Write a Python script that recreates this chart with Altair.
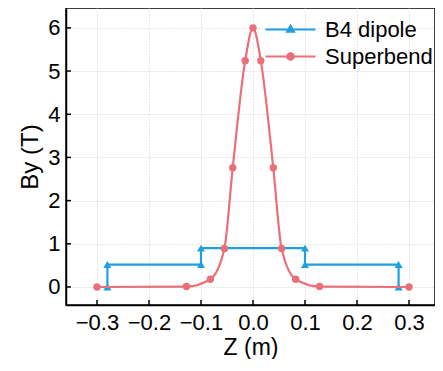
import altair as alt
import pandas as pd

# ---- data ----
series_names = ["B4 dipole", "Superbend"]
series_colors = ["#1f9fe0", "#ea6f78"]

b4_z = [-0.28, -0.28, -0.10, -0.10, 0.10, 0.10, 0.28, 0.28]
b4_by = [0.0, 0.52, 0.52, 0.90, 0.90, 0.52, 0.52, 0.0]

sb_z = [-0.30, -0.128, -0.082, -0.055, -0.039, -0.015, 0.0, 0.015, 0.039, 0.055, 0.082, 0.128, 0.30]
sb_by = [0.0, 0.01, 0.18, 0.89, 2.76, 5.24, 6.0, 5.24, 2.76, 0.89, 0.18, 0.01, 0.0]

x_ticks = [-0.3, -0.2, -0.1, 0.0, 0.1, 0.2, 0.3]
y_ticks = [0, 1, 2, 3, 4, 5, 6]

# legend glyphs: a line with the series marker in the middle
legend_paths = [
    "M-2.5,0H2.5M0,-0.36L0.33,0.22L-0.33,0.22Z",
    "M-2.5,0H2.5M0.32,0A0.32,0.32,0,1,1,-0.32,0A0.32,0.32,0,1,1,0.32,0Z",
]

BLUE, RED = series_colors
FONT = "Liberation Sans"
W, H = 369, 297

df_b4 = pd.DataFrame({"z": b4_z, "by": b4_by, "i": list(range(len(b4_z)))})
df_sb = pd.DataFrame({"z": sb_z, "by": sb_by, "i": list(range(len(sb_z)))})
df_leg = pd.DataFrame({"series": series_names})
df_xt = pd.DataFrame({"z": x_ticks})
df_yt = pd.DataFrame({"by": y_ticks})

xs = alt.Scale(domain=[-0.3596, 0.35], nice=False, zero=False)
ys = alt.Scale(domain=[-0.417, 6.46], nice=False, zero=False)

x_axis = alt.Axis(values=x_ticks, format=".1f", title="Z (m)", ticks=False,
                  grid=True, gridDash=[1, 2], gridColor="#cccccc", gridWidth=1,
                  domainColor="black", domainWidth=1.5,
                  labelFont=FONT, labelFontSize=22, labelColor="black", labelPadding=7,
                  titleFont=FONT, titleFontSize=23, titleColor="black",
                  titleFontWeight="normal", titlePadding=3, labelFlush=False)
y_axis = alt.Axis(values=y_ticks, format="d", title="By (T)", ticks=False,
                  grid=True, gridDash=[1, 2], gridColor="#cccccc", gridWidth=1,
                  domainColor="black", domainWidth=1.5,
                  labelFont=FONT, labelFontSize=22, labelColor="black", labelPadding=6,
                  titleFont=FONT, titleFontSize=24, titleColor="black",
                  titleFontWeight="normal", titlePadding=5, labelFlush=False)

X = alt.X("z:Q", scale=xs, axis=x_axis)
Y = alt.Y("by:Q", scale=ys, axis=y_axis)

b4_line = alt.Chart(df_b4).mark_line(color=BLUE, strokeWidth=2.2).encode(x=X, y=Y, order="i:Q")
b4_pts = alt.Chart(df_b4).mark_point(shape="triangle-up", filled=True, size=65,
                                     color=BLUE, opacity=1).encode(x=X, y=Y)
sb_line = alt.Chart(df_sb).mark_line(color=RED, strokeWidth=2.2, interpolate="monotone").encode(
    x=X, y=Y, order="i:Q")
sb_pts = alt.Chart(df_sb).mark_circle(size=55, color=RED, opacity=1).encode(x=X, y=Y)

# inward tick marks
xt = alt.Chart(df_xt).mark_rule(color="black", strokeWidth=1.5).encode(
    x=X, y=alt.value(H), y2=alt.value(H - 5))
yt = alt.Chart(df_yt).mark_rule(color="black", strokeWidth=1.5).encode(
    y=Y, x=alt.value(0), x2=alt.value(5))

leg = alt.Legend(title=None, orient="none", legendX=213, legendY=10,
                 labelFont=FONT, labelFontSize=22, labelColor="black",
                 symbolStrokeWidth=2.2, symbolSize=400, labelOffset=23,
                 rowPadding=4, padding=0, symbolOpacity=1)
legend_layer = alt.Chart(df_leg).transform_filter("false").mark_point(
    filled=True, size=400, opacity=1).encode(
    x=X, y=Y,
    fill=alt.Fill("series:N", scale=alt.Scale(domain=series_names, range=series_colors), legend=leg),
    stroke=alt.Stroke("series:N", scale=alt.Scale(domain=series_names, range=series_colors), legend=leg),
    shape=alt.Shape("series:N", scale=alt.Scale(domain=series_names, range=legend_paths), legend=leg),
)

chart = alt.layer(b4_line, b4_pts, sb_line, sb_pts, xt, yt, legend_layer).properties(
    width=W, height=H,
    autosize=alt.AutoSizeParams(type="none"),
    padding={"left": 58, "top": 0, "right": 0, "bottom": 54},
    background="white",
).configure_view(stroke="black", strokeWidth=1.5)

chart.save("out.html", embed_options={"renderer": "svg", "actions": False})
